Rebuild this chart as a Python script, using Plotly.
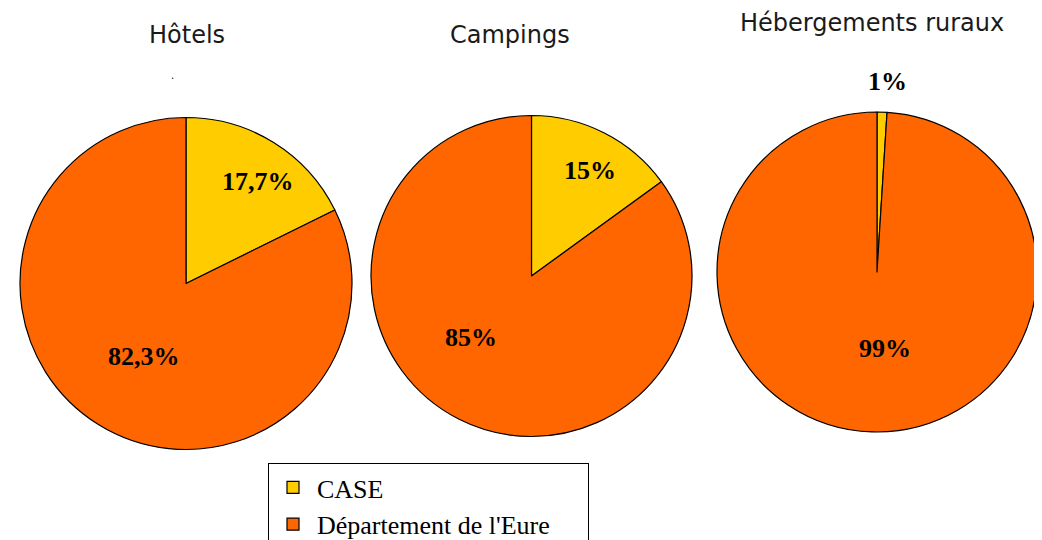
import plotly.graph_objects as go

W, H = 1042, 540
OX, OY = 8, 8  # page body offset

series_labels = ["CASE", "Département de l'Eure"]
titles = ["Hôtels", "Campings", "Hébergements ruraux"]
values_case = [17.7, 15, 1]
values_eure = [82.3, 85, 99]
text_case = ["17,7%", "15%", "1%"]
text_eure = ["82,3%", "85%", "99%"]
colors = ["#FFCC00", "#FF6600"]

# pie boxes in pixels (left, top, right, bottom)
boxes = [(20, 117, 352, 450), (371, 115, 692, 437), (716, 112, 1038, 432)]
title_pos = [(187, 35), (510, 35), (872, 23)]
case_lbl_pos = [(258, 181), (590, 170), (887, 81)]
eure_lbl_pos = [(144, 356), (471, 337), (885, 348)]

def px(x):
    return (x - OX) / W

def py(y):
    return 1 - (y - OY) / H

# legend names padded with non-breaking spaces to widen the legend box
legend_labels = [s + "\u00a0" * 5 for s in series_labels]

fig = go.Figure()
for i in range(3):
    l, t, r, b = boxes[i]
    fig.add_trace(go.Pie(
        labels=legend_labels,
        values=[values_case[i], values_eure[i]],
        sort=False,
        direction="clockwise",
        rotation=0,
        marker=dict(colors=colors, line=dict(color="black", width=1.2)),
        textinfo="none",
        hoverinfo="label+percent",
        domain=dict(x=[px(l), px(r)], y=[py(b), py(t)]),
        showlegend=(i == 0),
    ))

def add_text(x, y, text, family, size, color):
    return dict(x=px(x), y=py(y), xref="paper", yref="paper", xanchor="center", yanchor="middle",
                text=text, showarrow=False, font=dict(family=family, size=size, color=color))

ann = []
for i in range(3):
    ann.append(add_text(title_pos[i][0], title_pos[i][1], titles[i], "DejaVu Sans", 24, "#1a1a1a"))
    ann.append(add_text(case_lbl_pos[i][0], case_lbl_pos[i][1], "<b>" + text_case[i] + "</b>",
                        "Liberation Serif", 26, "black"))
    ann.append(add_text(eure_lbl_pos[i][0], eure_lbl_pos[i][1], "<b>" + text_eure[i] + "</b>",
                        "Liberation Serif", 26, "black"))
ann.append(add_text(172, 76, ".", "DejaVu Sans", 10, "black"))

fig.update_layout(
    width=W, height=H,
    margin=dict(l=0, r=0, t=0, b=0, pad=0, autoexpand=False),
    paper_bgcolor="white", plot_bgcolor="white",
    annotations=ann,
    legend=dict(x=px(268), y=py(463), xanchor="left", yanchor="top",
                bordercolor="black", borderwidth=1, bgcolor="white",
                font=dict(family="Liberation Serif", size=26, color="black"),
                tracegroupgap=0, itemwidth=38),
)

fig.write_html("out.html")
